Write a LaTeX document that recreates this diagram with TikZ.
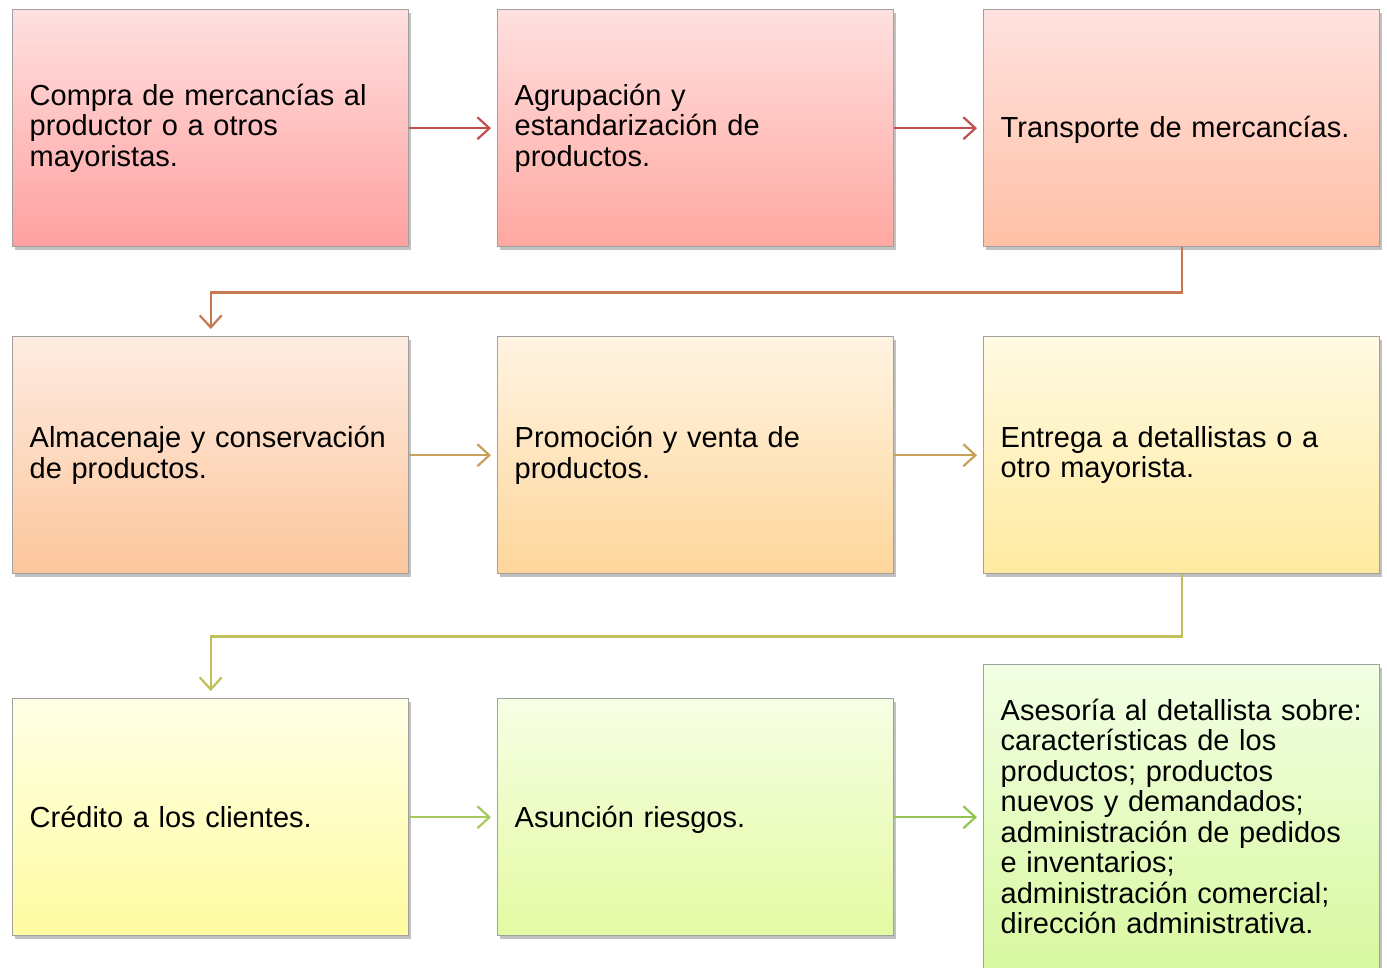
\documentclass[tikz,border=0pt]{standalone}
\usepackage{fontspec}
\setmainfont{Liberation Sans}
\usetikzlibrary{arrows.meta,shadows,positioning}
\definecolor{bordergray}{RGB}{160,160,160}
\definecolor{arA}{RGB}{192,80,77}
\definecolor{arB}{RGB}{200,120,80}
\definecolor{arC}{RGB}{200,160,90}
\definecolor{arD}{RGB}{190,190,90}
\definecolor{arE}{RGB}{165,200,95}
\definecolor{arF}{RGB}{145,195,85}
\tikzset{
  box/.style={draw=bordergray, line width=1.4pt, anchor=north west,
    minimum width=396pt, minimum height=237pt, text width=362pt,
    inner xsep=17pt, inner ysep=0pt, align=left,
    font=\fontsize{29}{30.5}\selectfont,
    drop shadow={shadow xshift=2pt, shadow yshift=-3pt, opacity=0.35, fill=black!70}},
  flow/.style={line width=2.2pt, -{Straight Barb[length=12pt,width=22pt,line width=2.2pt]}}
}
\begin{document}
\begin{tikzpicture}[x=1pt,y=-1pt]
\useasboundingbox (0,0) rectangle (1387,967);
% row 1
\node[box, top color={rgb,255:red,255;green,224;blue,224}, bottom color={rgb,255:red,255;green,160;blue,160}] (b1) at (12,9)
  {Compra de mercancías al\\productor o a otros\\mayoristas.};
\node[box, top color={rgb,255:red,255;green,224;blue,224}, bottom color={rgb,255:red,255;green,168;blue,160}] (b2) at (497,9)
  {Agrupación y\\estandarización de\\productos.};
\node[box, top color={rgb,255:red,255;green,226;blue,224}, bottom color={rgb,255:red,255;green,192;blue,165}] (b3) at (983,9)
  {\raisebox{-2pt}[\height][\depth]{Transporte de mercancías.}};
% row 2
\node[box, top color={rgb,255:red,254;green,236;blue,226}, bottom color={rgb,255:red,252;green,198;blue,155}] (b4) at (12,336)
  {Almacenaje y conservación\\de productos.};
\node[box, top color={rgb,255:red,255;green,244;blue,226}, bottom color={rgb,255:red,254;green,214;blue,155}] (b5) at (497,336)
  {Promoción y venta de\\productos.};
\node[box, top color={rgb,255:red,255;green,250;blue,226}, bottom color={rgb,255:red,255;green,234;blue,160}] (b6) at (983,336)
  {Entrega a detallistas o a\\otro mayorista.};
% row 3
\node[box, top color={rgb,255:red,255;green,255;blue,230}, bottom color={rgb,255:red,255;green,252;blue,160}] (b7) at (12,698)
  {Crédito a los clientes.};
\node[box, top color={rgb,255:red,246;green,255;blue,228}, bottom color={rgb,255:red,228;green,250;blue,162}] (b8) at (497,698)
  {\raisebox{-3pt}[\height][\depth]{Asunción riesgos.}};
\node[box, minimum height=304pt, top color={rgb,255:red,242;green,255;blue,228}, bottom color={rgb,255:red,216;green,248;blue,160}] (b9) at (983,664)
  {Asesoría al detallista sobre:\\características de los\\productos; productos\\nuevos y demandados;\\administración de pedidos\\e inventarios;\\administración comercial;\\dirección administrativa.};
% connectors
\draw[flow, arA, shorten >=6pt] (b1.east) -- (b2.west);
\draw[flow, arA, shorten >=6pt] (b2.east) -- (b3.west);
\draw[flow, arB, shorten >=7pt] (b3.south) -- ++(0,45) -| (b4.north);
\draw[flow, arC, shorten >=6pt] (b4.east) -- (b5.west);
\draw[flow, arC, shorten >=6pt] (b5.east) -- (b6.west);
\draw[flow, arD, shorten >=7pt] (b6.south) -- ++(0,62) -| (b7.north);
\draw[flow, arE, shorten >=6pt] (b7.east) -- (b8.west);
\draw[flow, arF, shorten >=6pt] (b8.east |- b8.west) -- (b8.east -| b9.west);
\end{tikzpicture}
\end{document}
